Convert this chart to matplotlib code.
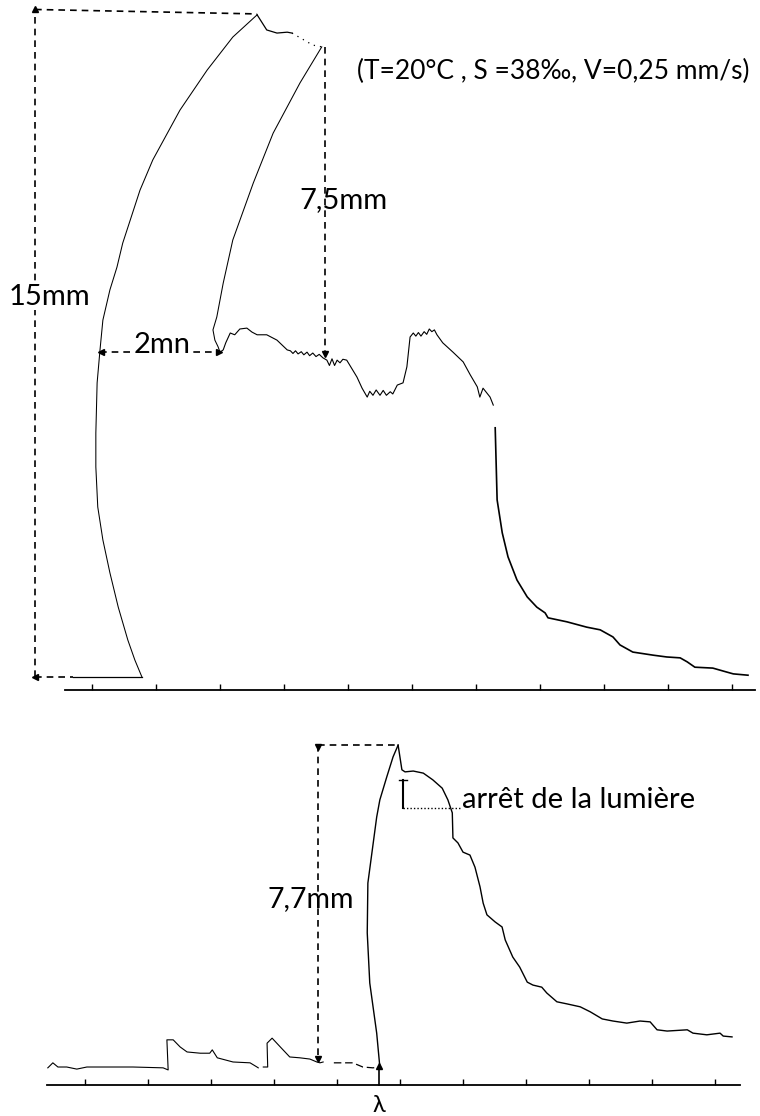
import matplotlib
matplotlib.use("Agg")
import matplotlib.pyplot as plt

plt.rcParams['font.family'] = ['Lato', 'DejaVu Sans']
plt.rcParams['font.weight'] = 'normal'

# ---------------- upper record (x: minutes, y: mm) ----------------
rise1_t = [0.78, 0.67, 0.56, 0.41, 0.28, 0.17, 0.09, 0.06, 0.06, 0.08, 0.125, 0.17, 0.28,
           0.39, 0.48, 0.75, 0.95, 1.375, 1.80, 2.20, 2.58]
rise1_mm = [0.0, 0.38, 0.83, 1.57, 2.34, 3.08, 3.82, 4.72, 5.48, 6.61, 7.35, 8.02, 8.70,
            9.21, 9.75, 10.94, 11.62, 12.74, 13.64, 14.38, 14.88]

base1_t = [-0.30, 0.78]
base1_mm = [0.0, 0.0]

top_t = [2.58, 2.73, 2.89, 3.05, 3.125]
top_mm = [14.88, 14.54, 14.47, 14.49, 14.47]
topgap_t = [3.125, 3.45, 3.59]
topgap_mm = [14.47, 14.20, 14.16]

fall_t = [3.59, 3.25, 2.83, 2.52, 2.20, 2.05, 1.95, 1.89, 1.92, 1.97, 2.00]
fall_mm = [14.16, 13.35, 12.22, 11.10, 9.82, 8.85, 8.09, 7.80, 7.57, 7.42, 7.30]

plat_t = [2.00, 2.05, 2.09, 2.16, 2.23, 2.31, 2.42, 2.50, 2.58, 2.73, 2.89, 3.05,
          3.10, 3.14, 3.18, 3.22, 3.27, 3.31, 3.36, 3.40, 3.45, 3.50, 3.55, 3.61,
          3.67, 3.71, 3.75, 3.79, 3.83, 3.875, 3.92, 3.98, 4.14, 4.22, 4.30, 4.34,
          4.39, 4.44, 4.50, 4.55, 4.60, 4.66, 4.70, 4.77, 4.86, 4.92, 4.97, 5.02,
          5.06, 5.10, 5.14, 5.19, 5.23, 5.27, 5.31, 5.35, 5.39, 5.48, 5.64, 5.80,
          5.91, 6.02, 6.06, 6.11, 6.22, 6.27]
plat_mm = [7.30, 7.35, 7.51, 7.73, 7.69, 7.82, 7.84, 7.75, 7.69, 7.69, 7.57, 7.35,
           7.33, 7.27, 7.33, 7.26, 7.31, 7.24, 7.30, 7.22, 7.28, 7.20, 7.25, 7.17,
           7.12, 7.00, 7.15, 7.00, 7.12, 7.06, 7.14, 7.12, 6.74, 6.49, 6.29, 6.42,
           6.33, 6.45, 6.33, 6.44, 6.33, 6.41, 6.36, 6.56, 6.61, 6.97, 7.64, 7.73,
           7.66, 7.74, 7.66, 7.76, 7.70, 7.82, 7.76, 7.80, 7.69, 7.51, 7.30, 7.08,
           6.79, 6.52, 6.29, 6.49, 6.29, 6.11]

decay_t = [6.30, 6.33, 6.41, 6.50, 6.64, 6.80, 6.95, 7.08, 7.125, 7.42, 7.73, 7.94,
           8.14, 8.25, 8.45, 8.77, 8.98, 9.19, 9.30, 9.42, 9.70, 9.92, 10.02, 10.25]
decay_mm = [5.60, 3.98, 3.24, 2.70, 2.18, 1.80, 1.57, 1.44, 1.33, 1.24, 1.12, 1.06,
            0.90, 0.72, 0.56, 0.49, 0.45, 0.43, 0.34, 0.22, 0.20, 0.11, 0.07, 0.04]

# ---------------- lower record (x: minutes, y: mm) ----------------
low1_t = [-0.59, -0.51, -0.43, -0.29, -0.13, 0.03, 0.24, 0.76, 1.24, 1.32, 1.30, 1.40,
          1.51, 1.62, 1.83, 1.98, 2.02, 2.10, 2.35, 2.62, 2.73, 2.75]
low1_mm = [-0.02, 0.10, 0.0, 0.0, -0.05, 0.0, 0.0, 0.0, -0.02, -0.07, 0.65, 0.65,
           0.48, 0.36, 0.33, 0.33, 0.41, 0.22, 0.12, 0.10, 0.0, -0.02]
low2_t = [2.83, 2.90, 2.89, 2.97, 3.10, 3.25, 3.41, 3.57, 3.68, 3.73, 3.78]
low2_mm = [0.0, 0.0, 0.57, 0.69, 0.48, 0.24, 0.22, 0.19, 0.12, 0.10, 0.12]
low3_t = [3.95, 4.05, 4.25, 4.41, 4.57, 4.67]
low3_mm = [0.10, 0.10, 0.10, 0.0, -0.02, 0.0]

low_rise_t = [4.68, 4.63, 4.52, 4.48, 4.49, 4.56, 4.63, 4.68, 4.79, 4.89, 4.97]
low_rise_mm = [0.0, 0.81, 2.01, 3.21, 4.40, 5.19, 5.98, 6.39, 6.94, 7.42, 7.70]

low_decay_t = [4.97, 5.03, 5.08, 5.21, 5.37, 5.52, 5.67, 5.76, 5.83, 5.84, 5.92, 6.00,
               6.11, 6.19, 6.27, 6.32, 6.38, 6.51, 6.62, 6.67, 6.79, 6.90, 7.02, 7.11,
               7.25, 7.33, 7.49, 7.65, 7.86, 8.02, 8.21, 8.38, 8.60, 8.81, 8.97, 9.08,
               9.24, 9.56, 9.65, 9.87, 10.08, 10.13, 10.27]
low_decay_mm = [7.70, 7.11, 7.06, 7.08, 7.03, 6.87, 6.67, 6.39, 6.08, 5.48, 5.36, 5.14,
                5.07, 4.78, 4.31, 3.92, 3.64, 3.47, 3.35, 3.04, 2.63, 2.39, 2.03, 1.96,
                1.91, 1.77, 1.56, 1.51, 1.44, 1.32, 1.15, 1.10, 1.05, 1.10, 1.08, 0.89,
                0.86, 0.89, 0.81, 0.77, 0.81, 0.74, 0.72]

minute_ticks = list(range(11))

annot_upper = "(T=20°C , S =38‰, V=0,25 mm/s)"
label_15 = "15mm"
label_75 = "7,5mm"
label_2mn = "2mn"
label_77 = "7,7mm"
label_arret = "arrêt de la lumière"
label_lambda = "λ"

# ---------------- figure ----------------
fig = plt.figure(figsize=(7.6, 11.16), dpi=100)
ax1 = fig.add_axes([0, 1 - 700 / 1116, 1, 700 / 1116])
ax2 = fig.add_axes([0, 0, 1, 396 / 1116])

ax1.set_xlim(-1.4375, 10.4375)
ax1.set_ylim(-0.517, 15.213)
ax2.set_xlim(-1.349, 10.714)
ax2.set_ylim(-1.172, 8.301)


def style_axis(ax, ypos, bounds):
    for s in ['left', 'right', 'top']:
        ax.spines[s].set_visible(False)
    ax.spines['bottom'].set_position(('data', ypos))
    ax.spines['bottom'].set_bounds(*bounds)
    ax.spines['bottom'].set_linewidth(1.3)
    ax.set_xticks(minute_ticks)
    ax.tick_params(axis='x', direction='in', length=4, width=1.0, labelbottom=False)
    ax.set_yticks([])
    ax.patch.set_visible(False)


style_axis(ax1, -0.30, (-0.42, 10.36))
style_axis(ax2, -0.43, (-0.60, 10.40))

k = 'black'
dash = (0, (4, 3))

# upper traces
ax1.plot(rise1_t, rise1_mm, color=k, lw=0.75)
ax1.plot(base1_t, base1_mm, color=k, lw=0.9)
ax1.plot(top_t, top_mm, color=k, lw=0.9)
ax1.plot(topgap_t, topgap_mm, color=k, lw=0.9, ls=(0, (1, 4)))
ax1.plot(fall_t, fall_mm, color=k, lw=0.75)
ax1.plot(plat_t, plat_mm, color=k, lw=0.8)
ax1.plot(decay_t, decay_mm, color=k, lw=1.2)

# upper dimension lines
ax1.plot([-0.89, -0.89], [0.0, 15.0], color=k, lw=1.2, ls=dash)
ax1.plot([-0.89, 2.58], [15.0, 14.9], color=k, lw=1.2, ls=dash)
ax1.plot([-0.89, -0.30], [0.0, 0.0], color=k, lw=1.2, ls=dash)
ax1.plot([-0.89], [15.0], marker='^', ms=4, color=k)
ax1.plot([-0.89], [0.0], marker='<', ms=4, color=k)
ax1.plot([0.125, 2.0], [7.30, 7.30], color=k, lw=1.2, ls=dash)
ax1.plot([0.14], [7.30], marker='<', ms=4, color=k)
ax1.plot([1.98], [7.30], marker='>', ms=4, color=k)
ax1.plot([3.64, 3.64], [14.16, 7.24], color=k, lw=1.2, ls=dash)
ax1.plot([3.64], [7.26], marker='v', ms=4, color=k)

ax1.text(-0.66, 8.54, label_15, ha='center', va='center', fontsize=21,
         bbox=dict(facecolor='white', edgecolor='none', pad=0.3))
ax1.text(3.93, 10.72, label_75, ha='center', va='center', fontsize=21)
ax1.text(1.09, 7.46, label_2mn, ha='center', va='center', fontsize=21,
         bbox=dict(facecolor='white', edgecolor='none', pad=0.3))
ax1.text(4.14, 13.6, annot_upper, ha='left', va='center', fontsize=19)

# lower traces
ax2.plot(low1_t, low1_mm, color=k, lw=0.8)
ax2.plot(low2_t, low2_mm, color=k, lw=0.8)
ax2.plot(low3_t, low3_mm, color=k, lw=0.9, ls=(0, (6, 3)))
ax2.plot(low_rise_t, low_rise_mm, color=k, lw=1.0)
ax2.plot(low_decay_t, low_decay_mm, color=k, lw=1.0)

# lambda marker
ax2.plot([4.67, 4.67], [-0.43, 0.0], color=k, lw=1.2)
ax2.plot([4.67], [0.02], marker='^', ms=4, color=k)
ax2.text(4.67, -0.93, label_lambda, ha='center', va='center', fontsize=17)

# lower dimension lines
ax2.plot([3.70, 3.70], [7.70, 0.17], color=k, lw=1.2, ls=dash)
ax2.plot([3.70, 4.97], [7.70, 7.70], color=k, lw=1.2, ls=dash)
ax2.plot([3.70], [7.66], marker='v', ms=4, color=k)
ax2.plot([3.70], [0.19], marker='v', ms=4, color=k)
ax2.text(3.59, 4.02, label_77, ha='center', va='center', fontsize=20.5)

# "arret de la lumiere"
ax2.plot([5.05, 5.05], [6.87, 6.20], color=k, lw=1.5)
ax2.plot([4.99, 5.11], [6.87, 6.87], color=k, lw=1.0)
ax2.plot([5.05, 5.95], [6.20, 6.20], color=k, lw=1.0, ls=(0, (1, 1.5)))
ax2.text(5.98, 6.20, label_arret, ha='left', va='baseline', fontsize=21)

fig.savefig("out.png", dpi=100, facecolor='white')
